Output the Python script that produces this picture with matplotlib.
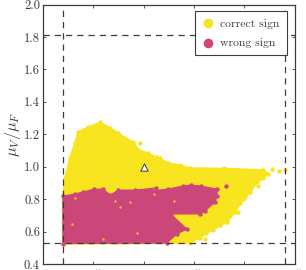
import matplotlib
matplotlib.use('Agg')
import matplotlib.pyplot as plt

plt.rcParams['font.family'] = ['cmr10', 'DejaVu Sans']
plt.rcParams['mathtext.fontset'] = 'cm'
plt.rcParams['axes.formatter.use_mathtext'] = True
plt.rcParams['axes.unicode_minus'] = False

YELLOW = '#f8e41f'
MAGENTA = '#cb4679'
DARK = '#3c3c3c'

# outline of the correct sign region (mu_R/mu_F, mu_V/mu_F)
correct_x = [0.20, 0.20, 0.22, 0.27, 0.32, 0.35, 0.40, 0.45, 0.52, 0.57, 0.62, 0.67, 0.75, 0.82, 0.90, 0.95, 1.04, 1.12, 1.16,
             1.24, 1.36, 1.46, 1.80, 2.19, 2.24, 2.19, 2.13, 2.06, 2.01, 1.96, 1.91, 1.83, 1.76, 1.69, 1.62, 1.56, 1.46]
correct_y = [0.525, 0.827, 0.931, 1.055, 1.147, 1.215, 1.228, 1.245, 1.258, 1.276, 1.254, 1.239, 1.208, 1.178, 1.153, 1.104, 1.085, 1.061, 1.055,
             1.024, 1.011, 0.993, 0.990, 0.981, 0.959, 0.931, 0.907, 0.845, 0.815, 0.777, 0.722, 0.660, 0.640, 0.611, 0.590, 0.562, 0.531]
# stray points outside the outline
correct_extra_x = [0.97, 2.27, 2.34, 2.40, 2.14, 1.61, 1.99, 1.94, 1.82]
correct_extra_y = [1.146, 0.985, 0.975, 0.982, 0.880, 0.555, 0.800, 0.720, 0.660]

# outline of the wrong sign region
wrong_x = [0.20, 0.20, 0.32, 0.40, 0.51, 0.60, 0.67, 0.75, 0.92, 1.12, 1.07, 1.24, 1.39, 1.47, 1.57,
           1.73, 1.73, 1.71, 1.61, 1.56, 1.27, 1.43, 1.33, 1.23]
wrong_y = [0.528, 0.820, 0.833, 0.845, 0.863, 0.863, 0.826, 0.857, 0.857, 0.870, 0.851, 0.863, 0.882, 0.888, 0.882,
           0.863, 0.820, 0.783, 0.728, 0.710, 0.710, 0.617, 0.586, 0.531]
wrong_extra_x = [1.82]
wrong_extra_y = [0.882]
# yellow specks showing through the wrong sign region
speck_x = [0.29, 0.32, 0.72, 0.77, 0.87, 0.94, 1.30, 1.10, 0.60]
speck_y = [0.648, 0.809, 0.790, 0.752, 0.783, 0.593, 0.790, 0.830, 0.555]

mu_r_limits = [0.2, 2.4]
mu_v_limits = [0.53, 1.81]
central_x = [1.0]
central_y = [1.0]

fig = plt.figure(figsize=(3.06, 2.70), dpi=100)
ax = fig.add_axes([42.7/306, 1 - 264.3/270, (294.7 - 42.7)/306, (264.3 - 4.5)/270])

ax.fill(correct_x, correct_y, facecolor=YELLOW, edgecolor=YELLOW, lw=1.2, joinstyle='round', zorder=2)
ax.scatter(correct_x + correct_extra_x, correct_y + correct_extra_y, s=10, color=YELLOW, lw=0, zorder=2, label='correct sign')
ax.fill(wrong_x, wrong_y, facecolor=MAGENTA, edgecolor=MAGENTA, lw=0.8, joinstyle='round', zorder=3)
ax.scatter(wrong_x + wrong_extra_x, wrong_y + wrong_extra_y, s=10, color=MAGENTA, lw=0, zorder=3, label='wrong sign')
ax.scatter(speck_x, speck_y, s=3, color=YELLOW, lw=0, alpha=0.8, zorder=4)

for v in mu_r_limits:
    ax.axvline(v, color=DARK, lw=0.9, dashes=(5, 4), zorder=5)
for v in mu_v_limits:
    ax.axhline(v, color=DARK, lw=0.9, dashes=(5, 4), zorder=5)

ax.scatter(central_x, central_y, marker='^', s=28, facecolor='white', edgecolor=DARK, lw=0.7, zorder=6)

ax.set_xlim(0, 2.5)
ax.set_ylim(0.4, 2.0)
ax.set_xticks([0.0, 0.5, 1.0, 1.5, 2.0, 2.5])
ax.set_yticks([0.4, 0.6, 0.8, 1.0, 1.2, 1.4, 1.6, 1.8, 2.0])
ax.set_xticklabels(['0.0', '0.5', '1.0', '1.5', '2.0', '2.5'])
ax.set_yticklabels(['0.4', '0.6', '0.8', '1.0', '1.2', '1.4', '1.6', '1.8', '2.0'])
ax.tick_params(direction='in', top=True, right=True, length=2, width=0.6, color=DARK,
               labelcolor=DARK, labelsize=9, pad=2)
ax.tick_params(axis='x', pad=4)
ax.set_ylabel(r'$\mu_V/\mu_F$', fontsize=11.5, color=DARK, labelpad=1)
for s in ax.spines.values():
    s.set_linewidth(0.9)
    s.set_color(DARK)

leg = ax.legend(loc='upper right', bbox_to_anchor=(0.9675, 0.9735), fontsize=8.4, fancybox=False, framealpha=1,
                edgecolor=DARK, borderaxespad=0, scatterpoints=1, markerscale=2.2, labelspacing=0.8,
                handlelength=1.0, handletextpad=0.55, borderpad=0.6, labelcolor=DARK)
leg.get_frame().set_linewidth(0.8)
leg.set_zorder(10)

fig.savefig('out.png', dpi=100)
